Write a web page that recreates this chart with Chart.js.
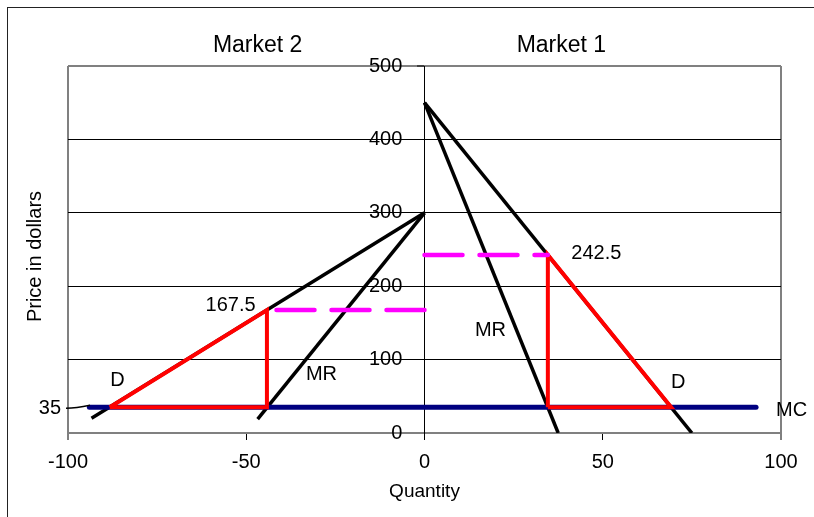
<!DOCTYPE html>
<html>
<head>
<meta charset="utf-8">
<script src="https://cdn.jsdelivr.net/npm/chart.js@4.4.1/dist/chart.umd.min.js"></script>
<style>
  html, body { margin: 0; padding: 0; background: #fff; }
  canvas { display: block; }
</style>
</head>
<body>
<canvas id="chart" width="814" height="517"></canvas>
<script>
// values (quantity, price)
const qTicks = [-100, -50, 0, 50, 100];
const pTicks = [0, 100, 200, 300, 400, 500];

const m1Demand = [[0, 450], [75, 0]];
const m1MR = [[0, 450], [37.5, 0]];
const m2Demand = [[0, 300], [-93.4, 20]];
const m2MR = [[0, 300], [-46.8, 19]];
const mcLine = [[-94, 35], [93, 35]];
const m1Red = [[34.6, 35], [34.6, 242.5], [69.2, 35], [34.6, 35]];
const m2Red = [[-88.3, 35], [-44.2, 167.5], [-44.2, 35], [-88.3, 35]];
const m1Price = [[0, 242.5], [34.6, 242.5]];
const m2Price = [[0, 167.5], [-44.2, 167.5]];

const marketTitles = [["Market 2", -46.8], ["Market 1", 38.4]];
const notes = [
  ["D", -86.1, 72, "center"],
  ["MR", -28.9, 80, "center"],
  ["MR", 18.5, 140, "center"],
  ["D", 71.2, 69.5, "center"],
  ["MC", 98.6, 31, "left"],
  ["167.5", -54.4, 174, "center"],
  ["242.5", 48.2, 244, "center"],
];
const mcPrice = 35;

const FONT = "'Liberation Sans', Arial, sans-serif";

function pts(arr) {
  return arr.map((p) => ({ x: p[0], y: p[1] }));
}

function line(data, color, width, extra) {
  return Object.assign(
    {
      data: pts(data),
      showLine: true,
      borderColor: color,
      backgroundColor: color,
      borderWidth: width,
      pointRadius: 0,
      fill: false,
      tension: 0,
    },
    extra || {}
  );
}

const textPlugin = {
  id: "texts",
  beforeDraw(chart) {
    const c = chart.ctx;
    c.save();
    c.strokeStyle = "#222";
    c.lineWidth = 1;
    c.strokeRect(7.5, 7.5, 900, 900);
    c.restore();
  },
  afterDatasetsDraw(chart) {
    const c = chart.ctx;
    const xs = chart.scales.x;
    const ys = chart.scales.y;
    const area = chart.chartArea;
    c.save();
    c.fillStyle = "#000";
    c.textBaseline = "middle";

    c.font = "23px " + FONT;
    c.textAlign = "center";
    marketTitles.forEach(([t, q]) => c.fillText(t, xs.getPixelForValue(q), area.top - 20));

    c.font = "20px " + FONT;
    notes.forEach(([t, q, p, align]) => {
      c.textAlign = align;
      c.fillText(t, xs.getPixelForValue(q), ys.getPixelForValue(p));
    });

    // price label for MC on the left edge
    const y35 = ys.getPixelForValue(mcPrice);
    c.textAlign = "right";
    c.fillText(String(mcPrice), area.left - 7, y35 + 1);
    c.strokeStyle = "#000";
    c.lineWidth = 1.5;
    c.beginPath();
    c.moveTo(area.left - 2, y35 + 1);
    c.quadraticCurveTo(area.left + 8, y35 + 1, area.left + 22, y35 - 2);
    c.stroke();

    // y axis title
    c.save();
    c.translate(35, (area.top + area.bottom) / 2 + 7);
    c.rotate(-Math.PI / 2);
    c.textAlign = "center";
    c.font = "20px " + FONT;
    c.fillText("Price in dollars", 0, 0);
    c.restore();
    c.restore();
  },
};

new Chart(document.getElementById("chart"), {
  type: "scatter",
  data: {
    datasets: [
      line(m1Price, "#ff00ff", 4.5, { borderDash: [38, 17], borderCapStyle: "round" }),
      line(m2Price, "#ff00ff", 4.5, { borderDash: [38, 17], borderCapStyle: "round" }),
      line(m1Red, "#ff0000", 4, { borderJoinStyle: "miter" }),
      line(m2Red, "#ff0000", 4, { borderJoinStyle: "miter" }),
      line(mcLine, "#000080", 5, { borderCapStyle: "round" }),
      line(m1Demand, "#000", 3.5),
      line(m1MR, "#000", 3.5),
      line(m2Demand, "#000", 3.5),
      line(m2MR, "#000", 3.5),
    ],
  },
  options: {
    responsive: false,
    animation: false,
    layout: { padding: { left: 68, top: 66, right: 33, bottom: 0 } },
    plugins: {
      legend: { display: false },
      tooltip: { enabled: false },
    },
    scales: {
      x: {
        type: "linear",
        min: -100,
        max: 100,
        afterBuildTicks: (s) => { s.ticks = qTicks.map((v) => ({ value: v })); },
        afterFit: (s) => { s.height = 84; },
        border: { color: "#808080", width: 2 },
        grid: {
          drawOnChartArea: true,
          color: (ctx) => (ctx.tick && Math.abs(ctx.tick.value) === 100 ? "#808080" : "rgba(0,0,0,0)"),
          lineWidth: (ctx) => (ctx.tick && Math.abs(ctx.tick.value) === 100 ? 2 : 1),
          tickColor: "#000",
          tickWidth: 1,
          tickLength: 7,
        },
        ticks: { color: "#000", font: { size: 20, family: FONT }, padding: 10, maxRotation: 0 },
        title: {
          display: true,
          text: "Quantity",
          color: "#000",
          font: { size: 19, family: FONT },
          padding: { top: 4, bottom: 14 },
        },
      },
      y: {
        type: "linear",
        min: 0,
        max: 500,
        position: { x: 0 },
        afterBuildTicks: (s) => { s.ticks = pTicks.map((v) => ({ value: v })); },
        border: { color: "#000", width: 1 },
        grid: {
          color: (ctx) => (ctx.tick && (ctx.tick.value === 0 || ctx.tick.value === 500) ? "#808080" : "#000"),
          lineWidth: (ctx) => (ctx.tick && (ctx.tick.value === 0 || ctx.tick.value === 500) ? 2 : 1),
          tickColor: "#000",
          tickWidth: 1,
          tickLength: 7,
        },
        // labels sit to the left of the centre axis, clear of the tick marks
        ticks: {
          color: "#000",
          font: { size: 20, family: FONT },
          padding: 14,
          callback: (v) => v + "    ",
        },
      },
    },
  },
  plugins: [textPlugin],
});
</script>
</body>
</html>
